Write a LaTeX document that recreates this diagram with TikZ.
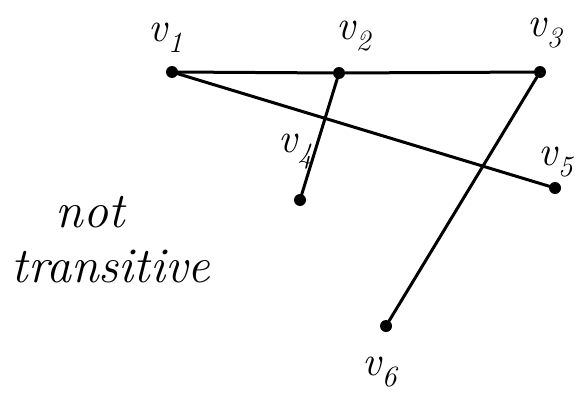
\documentclass[tikz,border=0pt]{standalone}
\usepackage{fontspec}
\setmainfont{Latin Modern Roman}
\begin{document}
\begin{tikzpicture}[x=1pt,y=-1pt,
  vtx/.style={circle,fill=black,inner sep=0pt,minimum size=12pt},
  lbl/.style={font=\fontsize{42}{44}\selectfont\itshape,inner sep=1pt},
  edge/.style={line width=3pt,line cap=round},
  hand/.style={font=\fontsize{50}{52}\selectfont\itshape}]
\useasboundingbox (0,0) rectangle (583,404);
\node[vtx] (v1) at (172,72) {};
\node[vtx] (v2) at (339,73) {};
\node[vtx] (v3) at (540,72) {};
\node[vtx] (v4) at (300,200) {};
\node[vtx] (v5) at (555,188) {};
\node[vtx] (v6) at (386,326) {};
\node[lbl] (l1) at (166,38) {v\textsubscript{1}};
\node[lbl] (l2) at (354,36) {v\textsubscript{2}};
\node[lbl] (l3) at (545,33) {v\textsubscript{3}};
\node[lbl] (l4) at (296,152) {v\textsubscript{4}};
\node[lbl] (l5) at (556,162) {v\textsubscript{5}};
\node[lbl] (l6) at (380,372) {v\textsubscript{6}};
\draw[edge] (v1) -- (v2);
\draw[edge] (v2) -- (v3);
\draw[edge] (v1) -- (v5);
\draw[edge] (v2) -- (v4);
\draw[edge] (v3) -- (v6);
\node[hand] (t1) at (90,212) {not};
\node[hand] (t2) at (111,266) {transitive};
\end{tikzpicture}
\end{document}
